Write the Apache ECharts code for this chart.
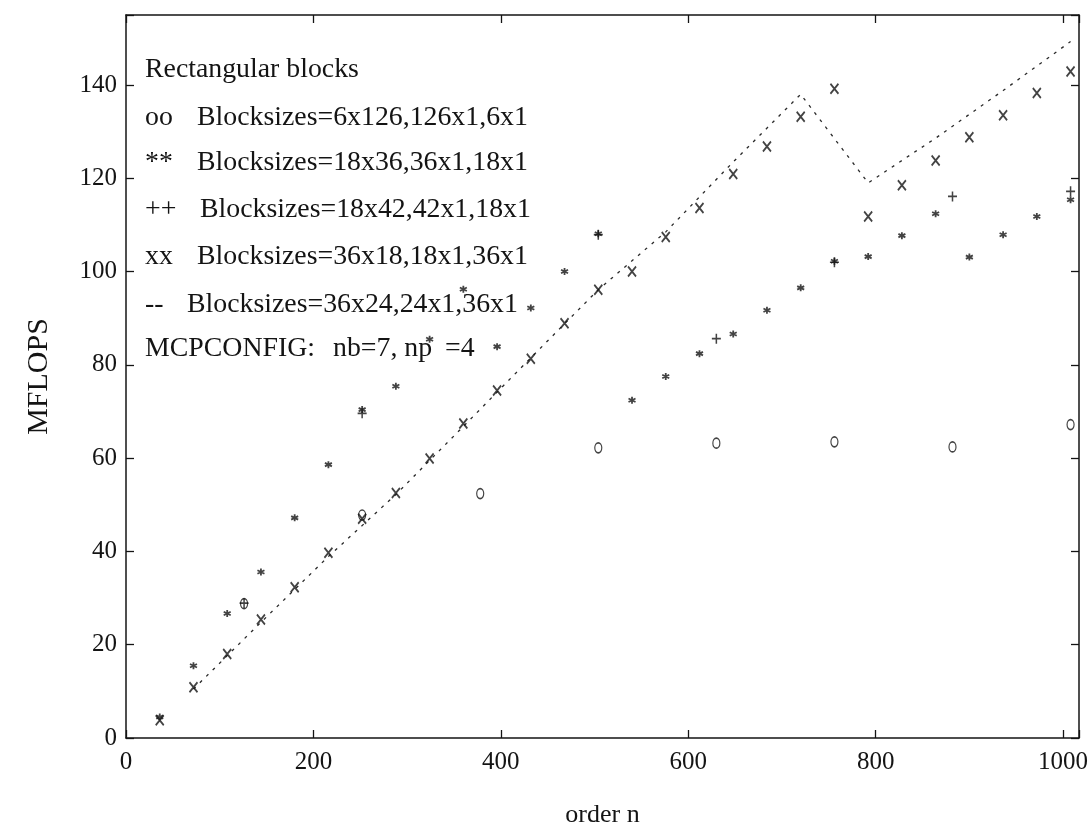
<!DOCTYPE html>
<html>
<head>
<meta charset="utf-8">
<style>
  html, body { margin: 0; padding: 0; background: #ffffff; }
  #chart { width: 1092px; height: 838px; }
</style>
<script src="https://cdn.jsdelivr.net/npm/echarts@6/dist/echarts.min.js"></script>
</head>
<body>
<div id="chart"></div>
<script>
// Problem orders tested with 36-wide steps (xx and ** runs)
const orderN = [36, 72, 108, 144, 180, 216, 252, 288, 324, 360, 396, 432, 468, 504,
                540, 576, 612, 648, 684, 720, 756, 792, 828, 864, 900, 936, 972, 1008];
// xx : Blocksizes=36x18,18x1,36x1
const mflopsXX = [3.8, 10.9, 18.0, 25.4, 32.3, 39.7, 47.0, 52.5, 59.9, 67.4, 74.5, 81.3, 88.9, 96.1,
                  100.0, 107.4, 113.6, 120.9, 126.8, 133.2, 139.2, 111.8, 118.5, 123.8, 128.8, 133.5, 138.3, 142.9];
// ** : Blocksizes=18x36,36x1,18x1
const mflopsStar = [4.5, 15.5, 26.7, 35.6, 47.2, 58.6, 70.4, 75.4, 85.5, 96.2, 83.9, 92.2, 100.0, 108.1,
                    72.4, 77.5, 82.4, 86.6, 91.7, 96.5, 102.2, 103.2, 107.7, 112.4, 103.1, 107.9, 111.8, 115.4];
// oo : Blocksizes=6x126,126x1,6x1
const orderO = [126, 252, 378, 504, 630, 756, 882, 1008];
const mflopsO = [28.8, 47.8, 52.4, 62.2, 63.2, 63.5, 62.4, 67.2];
// ++ : Blocksizes=18x42,42x1,18x1
const orderPlus = [126, 252, 504, 630, 756, 882, 1008];
const mflopsPlus = [28.9, 69.6, 107.9, 85.6, 102.0, 116.1, 117.2];
// -- : Blocksizes=36x24,24x1,36x1
const orderDash = [72, 144, 216, 288, 360, 432, 504, 576, 648, 720, 792, 864, 936, 1008];
const mflopsDash = [10.5, 24.8, 38.9, 52.2, 66.8, 81.5, 96.1, 108.5, 123.5, 138.0, 119.0, 128.6, 138.8, 149.3];

// Axis tick labels
const xTickLabels = [0, 200, 400, 600, 800, 1000];
const yTickLabels = [0, 20, 40, 60, 80, 100, 120, 140];

// Annotation block in the upper-left of the plot
const noteTitle = 'Rectangular blocks';
const noteCodes = ['oo', '**', '++', 'xx', '--'];
const noteSizes = ['Blocksizes=6x126,126x1,6x1', 'Blocksizes=18x36,36x1,18x1',
                   'Blocksizes=18x42,42x1,18x1', 'Blocksizes=36x18,18x1,36x1',
                   'Blocksizes=36x24,24x1,36x1'];
const noteConfig = ['MCPCONFIG:', 'nb=7, np', '=4'];

const ink = '#141414';
const serif = "'Liberation Serif', 'DejaVu Serif', serif";
const zip = (xs, ys) => xs.map((x, i) => [x, ys[i]]);

const X_MAX = 1017, Y_MAX = 155;

function axisBase(isX, showLabels) {
  const ticks = isX ? xTickLabels : yTickLabels;
  return {
    type: 'value',
    min: 0,
    max: isX ? X_MAX : Y_MAX,
    interval: isX ? 200 : 20,
    splitLine: { show: false },
    axisLine: { show: true, onZero: false, lineStyle: { color: ink, width: 1.5 } },
    axisTick: { show: true, inside: true, length: 8, lineStyle: { color: ink, width: 1.3 } },
    axisLabel: {
      show: showLabels,
      color: ink,
      fontFamily: serif,
      fontSize: 25,
      margin: isX ? 12 : 9,
      formatter: v => (ticks.indexOf(v) >= 0 ? String(v) : '')
    }
  };
}

const graphicTexts = [];
function addText(x, y, text) {
  graphicTexts.push({
    type: 'text', x: x, y: y, scaleX: 1.03, silent: true, z: 10,
    style: { text: text, fill: ink, fontFamily: serif, fontSize: 27, align: 'left', verticalAlign: 'middle' }
  });
}
addText(145, 70, noteTitle);
const rowY = [118, 163, 210, 257, 305];
const sizeX = [197, 197, 200, 197, 187];
noteCodes.forEach((c, i) => {
  addText(145, rowY[i], c);
  addText(sizeX[i], rowY[i], noteSizes[i]);
});
addText(145, 349, noteConfig[0]);
addText(333, 349, noteConfig[1]);
addText(445, 349, noteConfig[2]);

const chart = echarts.init(document.getElementById('chart'), null, { renderer: 'canvas' });

const strokeMark = (w) => ({ color: 'rgba(0,0,0,0)', borderColor: ink, borderWidth: w });

chart.setOption({
  backgroundColor: '#ffffff',
  animation: false,
  grid: { left: 126, right: 13, top: 15, bottom: 100, containLabel: false, outerBoundsMode: 'none' },
  xAxis: [
    Object.assign(axisBase(true, true), {
      position: 'bottom',
      name: 'order n',
      nameLocation: 'middle',
      nameGap: 64,
      nameTextStyle: { color: ink, fontFamily: serif, fontSize: 26 }
    }),
    Object.assign(axisBase(true, false), { position: 'top' })
  ],
  yAxis: [
    Object.assign(axisBase(false, true), {
      position: 'left',
      name: 'MFLOPS',
      nameLocation: 'middle',
      nameRotate: 90,
      nameGap: 72,
      nameTextStyle: { color: ink, fontFamily: serif, fontSize: 30 }
    }),
    Object.assign(axisBase(false, false), { position: 'right' })
  ],
  series: [
    {
      name: '--', type: 'line', xAxisIndex: 0, yAxisIndex: 0,
      data: zip(orderDash, mflopsDash), symbol: 'none', silent: true, z: 2,
      lineStyle: { color: '#2a2a2a', width: 1.3, type: [3, 6] }
    },
    {
      name: 'oo', type: 'scatter', data: zip(orderO, mflopsO), silent: true, z: 3,
      symbol: 'path://M5 0C7.8 0 10 2.2 10 5C10 7.8 7.8 10 5 10C2.2 10 0 7.8 0 5C0 2.2 2.2 0 5 0Z',
      symbolSize: [7, 10], itemStyle: strokeMark(1.4)
    },
    {
      name: 'xx', type: 'scatter', data: zip(orderN, mflopsXX), silent: true, z: 4,
      symbol: 'path://M0 0L10 10M10 0L0 10',
      symbolSize: [8, 10], itemStyle: strokeMark(1.9)
    },
    {
      name: '++', type: 'scatter', data: zip(orderPlus, mflopsPlus), silent: true, z: 4,
      symbol: 'path://M5 0L5 10M0 5L10 5',
      symbolSize: [9, 10], itemStyle: strokeMark(1.6)
    },
    {
      name: '**', type: 'scatter', data: zip(orderN, mflopsStar), silent: true, z: 5,
      symbol: 'path://M5 0L5 10M0.7 2.5L9.3 7.5M0.7 7.5L9.3 2.5',
      symbolSize: 7, itemStyle: strokeMark(1.8)
    }
  ],
  graphic: graphicTexts
});
</script>
</body>
</html>
